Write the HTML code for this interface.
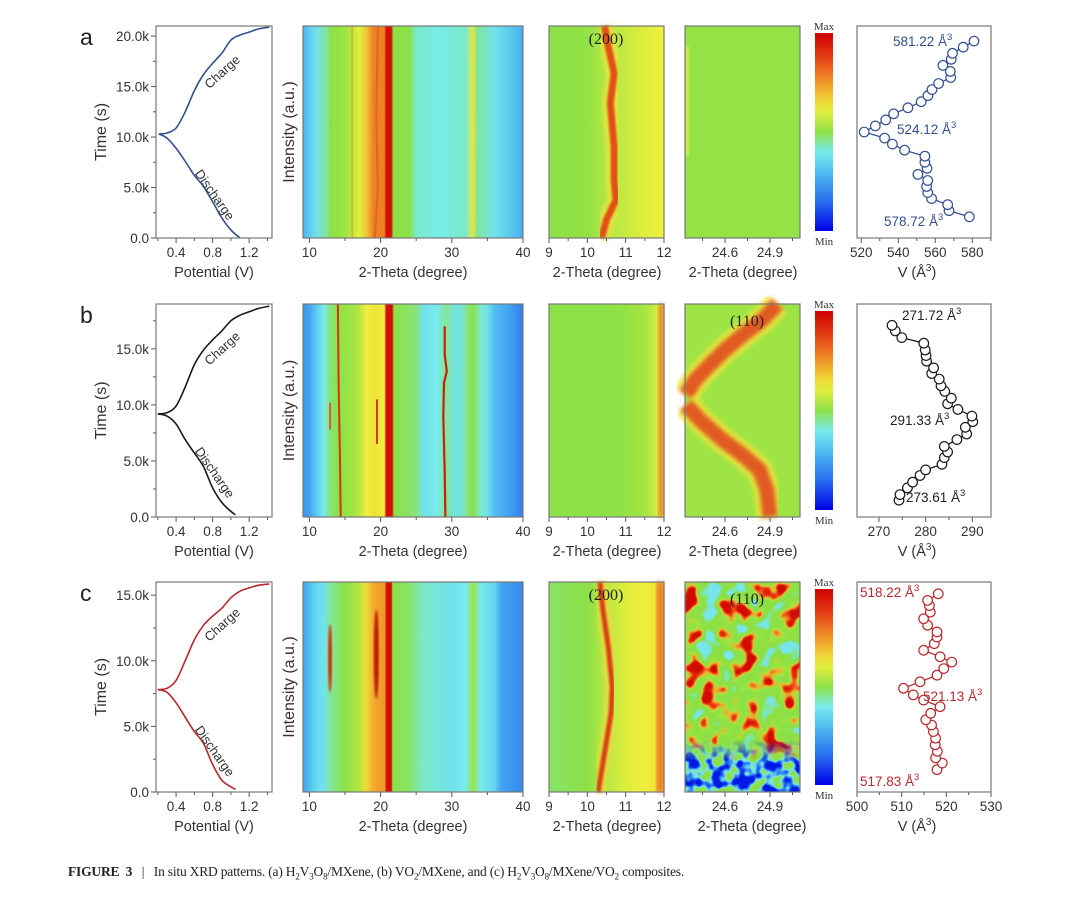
<!DOCTYPE html>
<html><head><meta charset="utf-8"><style>
html,body{margin:0;padding:0;background:#fff;}
svg{display:block;font-family:"Liberation Sans",Arial,sans-serif;}
.cap{position:absolute;left:68px;top:864px;font-family:"Liberation Serif",serif;font-size:13.5px;color:#222;letter-spacing:-0.2px;}
</style></head><body>
<svg id="fig" width="1080" height="898" viewBox="0 0 1080 898" xmlns="http://www.w3.org/2000/svg">
<defs>
<filter id="noiseMain" x="0" y="0" width="1" height="1" color-interpolation-filters="sRGB">
<feTurbulence type="fractalNoise" baseFrequency="0.05" numOctaves="2" seed="4"/>
<feColorMatrix type="matrix" values="2.6 0 0 0 -0.78  2.6 0 0 0 -0.78  2.6 0 0 0 -0.78  0 0 0 0 1"/>
<feComponentTransfer>
<feFuncR type="table" tableValues="0.47 0.5 0.55 0.55 0.56 0.62 0.94 0.92 0.82"/>
<feFuncG type="table" tableValues="0.9 0.9 0.88 0.88 0.88 0.9 0.7 0.25 0.05"/>
<feFuncB type="table" tableValues="0.92 0.6 0.27 0.27 0.27 0.25 0.18 0.08 0"/>
</feComponentTransfer>
</filter>
<filter id="noiseBlue" x="0" y="0" width="1" height="1" color-interpolation-filters="sRGB">
<feTurbulence type="fractalNoise" baseFrequency="0.08" numOctaves="2" seed="9"/>
<feColorMatrix type="matrix" values="3 0 0 0 -1.1  3 0 0 0 -1.1  3 0 0 0 -1.1  0 0 0 0 1"/>
<feComponentTransfer>
<feFuncR type="table" tableValues="0 0.15 0.47 0.55 0.55"/>
<feFuncG type="table" tableValues="0.1 0.45 0.9 0.88 0.88"/>
<feFuncB type="table" tableValues="0.9 0.95 0.9 0.3 0.27"/>
</feComponentTransfer>
</filter>
<filter id="blur2"><feGaussianBlur stdDeviation="2"/></filter>
<filter id="blur1"><feGaussianBlur stdDeviation="1"/></filter>
<linearGradient id="blueFade" x1="0" y1="0" x2="0" y2="1">
<stop offset="0" stop-color="#fff" stop-opacity="0"/><stop offset="0.4" stop-color="#fff" stop-opacity="1"/><stop offset="1" stop-color="#fff" stop-opacity="1"/>
</linearGradient>
<mask id="blueMask"><rect x="685" y="740" width="115" height="52" fill="url(#blueFade)"/></mask>
</defs>
</svg>
<div class="cap"><b>FIGURE&nbsp; 3</b> &nbsp;&nbsp;|&nbsp;&nbsp; In situ XRD patterns. (a) H<sub style="font-size:9px">2</sub>V<sub style="font-size:9px">3</sub>O<sub style="font-size:9px">8</sub>/MXene, (b) VO<sub style="font-size:9px">2</sub>/MXene, and (c) H<sub style="font-size:9px">2</sub>V<sub style="font-size:9px">3</sub>O<sub style="font-size:9px">8</sub>/MXene/VO<sub style="font-size:9px">2</sub> composites.</div>
<script>
// ---------- DATA ----------
const rowLetters = ['a','b','c'];
const rowColors = ['#34508f','#1a1a1a','#b8282e'];
const timeMax = [21.0, 19.0, 16.0];
const timeTicks = [[0,5,10,15,20],[0,5,10,15],[0,5,10,15]];
const timeTickLabels = [['0.0','5.0k','10.0k','15.0k','20.0k'],['0.0','5.0k','10.0k','15.0k'],['0.0','5.0k','10.0k','15.0k']];
const potTicks = [0.4,0.8,1.2];
const xrdTicks = [10,20,30,40];
const p200Ticks = [9,10,11,12];
const p110Ticks = [24.6,24.9];
// charge/discharge curves (potential V, time k s)
const disV_a = [0.21,0.3,0.4,0.5,0.6,0.7,0.8,0.9,1.0,1.1];
const disT_a = [10.3,9.9,8.9,7.6,6.2,5.1,3.6,2.0,0.8,0.0];
const chgV_a = [0.21,0.3,0.4,0.5,0.6,0.7,0.8,0.9,1.0,1.1,1.2,1.3,1.42];
const chgT_a = [10.3,10.4,10.9,12.5,14.6,16.2,17.3,18.3,19.6,20.1,20.4,20.7,20.9];
const disV_b = [0.2,0.3,0.4,0.5,0.6,0.7,0.8,0.9,1.0,1.05];
const disT_b = [9.2,9.0,8.3,6.9,5.7,4.5,2.6,1.3,0.5,0.2];
const chgV_b = [0.2,0.3,0.4,0.5,0.6,0.7,0.8,0.9,1.0,1.1,1.2,1.3,1.42];
const chgT_b = [9.2,9.3,9.9,11.6,13.6,14.9,15.8,16.6,17.5,18.0,18.3,18.6,18.8];
const disV_c = [0.2,0.3,0.4,0.5,0.6,0.7,0.8,0.9,1.0,1.05];
const disT_c = [7.8,7.6,6.8,5.7,4.6,3.7,2.1,0.9,0.4,0.2];
const chgV_c = [0.2,0.3,0.4,0.5,0.6,0.7,0.8,0.9,1.0,1.1,1.2,1.3,1.42];
const chgT_c = [7.8,7.9,8.5,10.0,11.6,12.7,13.4,14.0,14.8,15.3,15.55,15.75,15.85];
// XRD intensity profiles (2-theta, normalized intensity)
const xrdTheta_a = [9,10,11,12.5,13,15,16,17,18,19,20.5,20.8,21.5,21.8,24,25,28,32,33,33.5,36,38,40];
const xrdInt_a  = [0.28,0.33,0.38,0.45,0.5,0.52,0.55,0.6,0.68,0.78,0.78,0.97,0.97,0.5,0.5,0.42,0.4,0.42,0.6,0.45,0.38,0.33,0.27];
const xrdTheta_b = [9,10,11,12,13,14,16,17,18,19,20.5,20.8,21.6,21.9,25,26,28,29,31,32,33,34,35,36,38,40];
const xrdInt_b  = [0.22,0.25,0.33,0.4,0.47,0.5,0.52,0.55,0.62,0.64,0.62,0.97,0.97,0.5,0.47,0.38,0.4,0.45,0.38,0.45,0.5,0.42,0.38,0.3,0.25,0.18];
const xrdTheta_c = [9,10,11,12,13,15,17,18,19,20.6,20.8,21.5,21.7,24,26,30,32,33,34,36,37,40];
const xrdInt_c  = [0.25,0.3,0.36,0.38,0.45,0.5,0.55,0.65,0.72,0.75,0.97,0.97,0.5,0.48,0.42,0.38,0.4,0.52,0.4,0.35,0.25,0.2];
// (200) background profiles
const p200Theta = [9,10,10.6,11,11.5,12];
const p200Int_a = [0.5,0.51,0.55,0.57,0.6,0.62];
const p200Int_b = [0.5,0.5,0.5,0.51,0.53,0.62];
const p200Int_c = [0.48,0.5,0.56,0.6,0.62,0.66];
// (200) peak traces (time k, 2-theta)
const trace200T_a = [0,1.8,3.8,5.7,9.0,13.4,16.3,18.9,21.0];
const trace200X_a = [10.37,10.5,10.75,10.7,10.7,10.6,10.7,10.55,10.45];
const trace200T_c = [0,3,6,8,11,14,16];
const trace200X_c = [10.28,10.45,10.62,10.65,10.55,10.4,10.33];
// (110) peak traces, row b
const trace110T_up = [10.9,12.2,13.6,14.9,16.25,17.6,19.0];
const trace110X_up = [24.34,24.4,24.5,24.6,24.72,24.85,24.95];
const trace110T_lo = [0,2.4,4.2,5.5,6.9,8.7,10.0];
const trace110X_lo = [24.9,24.88,24.83,24.72,24.58,24.43,24.34];
// lattice volume vs time
const volT_a = [2.1,2.7,3.3,3.9,4.5,5.1,5.7,6.3,6.9,7.5,8.1,8.7,9.3,9.9,10.5,11.1,11.7,12.3,12.9,13.5,14.1,14.7,15.3,15.9,16.5,17.1,17.7,18.3,18.9,19.5];
const volV_a = [578.4,567.4,566.7,558.0,555.9,555.3,555.9,550.6,555.5,554.4,554.4,543.4,536.8,532.6,521.6,527.6,533.2,537.5,545.2,552.4,556.0,558.2,561.8,568.3,568.1,564.1,568.6,569.3,575.1,580.9];
const volT_b = [1.5,2.0,2.6,3.1,3.7,4.2,4.7,5.3,5.8,6.3,6.9,7.4,8.0,8.5,9.0,9.6,10.1,10.6,11.2,11.7,12.3,12.8,13.3,13.9,14.4,14.9,15.5,16.0,16.6,17.1];
const volV_b = [274.3,274.5,276.1,277.2,278.8,280.0,283.5,284.0,284.7,284.0,286.7,288.8,288.5,290.1,289.9,286.9,284.7,285.5,284.1,283.3,282.9,281.3,281.7,280.2,280.1,279.9,279.6,274.9,273.5,272.8];
const volT_c = [1.7,2.2,2.6,3.1,3.6,4.1,4.6,5.1,5.5,6.0,6.5,7.0,7.4,7.9,8.4,8.9,9.4,9.9,10.3,10.8,11.3,11.8,12.2,12.7,13.2,13.7,14.2,14.6,15.1];
const volV_c = [517.9,519.1,517.6,518.0,517.5,517.6,517.1,516.7,515.4,516.5,518.6,514.9,512.6,510.4,514.1,517.9,519.4,521.2,518.6,514.9,517.3,517.9,517.9,515.8,514.9,516.4,516.2,515.8,518.2];
const volDomain = [[517.7,590.1],[265.3,294.0],[500,530]];
const volTicks = [[520,540,560,580],[270,280,290],[500,510,520,530]];
const volLabels = [
  [['581.22',893,46],['524.12',897,134],['578.72',884,226]],
  [['271.72',902,320],['291.33',890,425],['273.61',906,502]],
  [['518.22',860,597],['521.13',923,701],['517.83',860,786]]
];

// ---------- HELPERS ----------
const NS='http://www.w3.org/2000/svg';
const svg=document.getElementById('fig');
const defs=svg.querySelector('defs');
function mk(tag,attrs,parent){const e=document.createElementNS(NS,tag);for(const k in attrs)e.setAttribute(k,attrs[k]);(parent||svg).appendChild(e);return e;}
function txt(str,attrs,parent){const e=mk('text',attrs,parent);e.textContent=str;return e;}
function lin(d0,d1,r0,r1){return v=>r0+(v-d0)*(r1-r0)/(d1-d0);}
const CM=[[0,[0,0,230]],[0.15,[40,110,240]],[0.3,[80,190,240]],[0.4,[120,235,235]],[0.5,[140,225,70]],[0.62,[240,240,60]],[0.75,[240,150,40]],[0.88,[230,60,20]],[1,[205,0,0]]];
function cmap(v){v=Math.max(0,Math.min(1,v));for(let i=1;i<CM.length;i++){if(v<=CM[i][0]){const a=CM[i-1],b=CM[i];const t=(v-a[0])/(b[0]-a[0]);const c=a[1].map((x,j)=>Math.round(x+(b[1][j]-x)*t));return 'rgb('+c.join(',')+')';}}return 'rgb(205,0,0)';}
function hGrad(id,thetas,ints,d0,d1){const g=mk('linearGradient',{id:id,x1:'0',y1:'0',x2:'1',y2:'0'},defs);thetas.forEach((t,i)=>{mk('stop',{offset:((t-d0)/(d1-d0)).toFixed(4),'stop-color':cmap(ints[i])},g);});}

const PX={cd:[156,272],xrd:[303,523],p200:[549,664],p110:[685,800],cb:[815,833],vol:[857,991]};
const ROWS=[{top:26,bot:238},{top:304,bot:517},{top:582,bot:792}];
const TC='#333';

function frame(x0,x1,top,bot,name){const r=mk('rect',{x:x0,y:top,width:x1-x0,height:bot-top,fill:'none',stroke:'#777','stroke-width':1.2});

}
function xTicks(xs,ticks,labels,bot,minor,grp){ticks.forEach((t,i)=>{const x=xs(t);mk('line',{x1:x,y1:bot,x2:x,y2:bot+5,stroke:'#555'},grp);const l=txt(labels[i],{x:x,y:bot+19,'text-anchor':'middle','font-size':13.5,fill:TC},grp);

});
(minor||[]).forEach(t=>{const x=xs(t);mk('line',{x1:x,y1:bot,x2:x,y2:bot+3,stroke:'#555'},grp);});}
function xTitle(s,cx,y,grp){const t=txt(s,{x:cx,y:y,'text-anchor':'middle','font-size':14.5,fill:TC},grp);

}
function poly(xsArr,ysArr,sx,sy,attrs,grp){return mk('polyline',Object.assign({points:xsArr.map((v,i)=>sx(v).toFixed(1)+','+sy(ysArr[i]).toFixed(1)).join(' '),fill:'none'},attrs),grp);}
function smooth(xsArr,ysArr,sx,sy,attrs,grp){
  const P=xsArr.map((v,i)=>[sx(v),sy(ysArr[i])]);
  let d='M'+P[0][0].toFixed(1)+','+P[0][1].toFixed(1);
  for(let i=0;i<P.length-1;i++){const p0=P[Math.max(0,i-1)],p1=P[i],p2=P[i+1],p3=P[Math.min(P.length-1,i+2)];
    const c1=[p1[0]+(p2[0]-p0[0])/6,p1[1]+(p2[1]-p0[1])/6],c2=[p2[0]-(p3[0]-p1[0])/6,p2[1]-(p3[1]-p1[1])/6];
    d+=' C'+c1.map(v=>v.toFixed(1)).join(',')+' '+c2.map(v=>v.toFixed(1)).join(',')+' '+p2[0].toFixed(1)+','+p2[1].toFixed(1);}
  return mk('path',Object.assign({d:d,fill:'none'},attrs),grp);}

// ---------- BUILD ROWS ----------
const CD=[[disV_a,disT_a,chgV_a,chgT_a],[disV_b,disT_b,chgV_b,chgT_b],[disV_c,disT_c,chgV_c,chgT_c]];
const XRD=[[xrdTheta_a,xrdInt_a],[xrdTheta_b,xrdInt_b],[xrdTheta_c,xrdInt_c]];
const P200=[p200Int_a,p200Int_b,p200Int_c];
const VOL=[[volT_a,volV_a],[volT_b,volV_b],[volT_c,volV_c]];

ROWS.forEach((R,ri)=>{
  const col=rowColors[ri];
  const g=mk('g',{});
  
  
  const sy=lin(0,timeMax[ri],R.bot,R.top);
  const lt=txt(rowLetters[ri],{x:80,y:R.top+19,'font-size':23,fill:'#222'},g);
  
  

  // --- charge/discharge panel ---
  const gc=mk('g',{},g);
  
  
  const sxV=lin(0.18,1.45,PX.cd[0],PX.cd[1]);
  const cd=CD[ri];
  const d=smooth(cd[0],cd[1],sxV,sy,{stroke:col,'stroke-width':1.6},gc);
  
  
  const c=smooth(cd[2],cd[3],sxV,sy,{stroke:col,'stroke-width':1.6},gc);
  
  
  frame(PX.cd[0],PX.cd[1],R.top,R.bot,'charge-discharge-frame');
  timeTicks[ri].forEach((t,i)=>{const y=sy(t);mk('line',{x1:PX.cd[0]-5,y1:y,x2:PX.cd[0],y2:y,stroke:'#555'},gc);
    const l=txt(timeTickLabels[ri][i],{x:PX.cd[0]-7,y:y+5,'text-anchor':'end','font-size':13.5,fill:TC},gc);
    
    
    if(t+2.5<timeMax[ri]) mk('line',{x1:PX.cd[0]-3,y1:sy(t+2.5),x2:PX.cd[0],y2:sy(t+2.5),stroke:'#555'},gc);});
  xTicks(sxV,potTicks,['0.4','0.8','1.2'],R.bot,[0.2,0.6,1.0,1.4],gc);
  xTitle('Potential (V)',214,R.bot+39,gc);
  const yt=txt('Time (s)',{x:0,y:0,'text-anchor':'middle','font-size':16,fill:TC,transform:'translate(106,'+((R.top+R.bot)/2)+') rotate(-90)'},gc);
  
  
  // curve labels
  const chX=sxV(0.72)+4, chY=sy(cd[3][6])+26;
  const cl=txt('Charge',{x:0,y:0,'font-size':13,fill:'#333',transform:'translate('+chX+','+chY+') rotate(-42)'},gc);
  
  
  const dX=sxV(0.6), dY=sy(cd[1][4])-2;
  const dl=txt('Discharge',{x:0,y:0,'font-size':13,fill:'#333',transform:'translate('+dX+','+dY+') rotate(55)'},gc);
  
  

  // --- XRD full map ---
  const gx=mk('g',{},g);
  
  
  const sxT=lin(9.1,40,PX.xrd[0],PX.xrd[1]);
  hGrad('xg'+ri,XRD[ri][0],XRD[ri][1],9.1,40);
  const xr=mk('rect',{x:PX.xrd[0],y:R.top,width:PX.xrd[1]-PX.xrd[0],height:R.bot-R.top,fill:'url(#xg'+ri+')'},gx);
  
  
  if(ri===0){
    poly([16,16],[0,21],sxT,sy,{stroke:'rgb(240,150,40)','stroke-width':1.5,opacity:0.7},gx);
    poly([19.2,19.6,19.4,19.6],[0,5,12,21],sxT,sy,{stroke:'rgb(225,90,25)','stroke-width':2,opacity:0.7},gx);
    poly([32.9,33.1,32.9],[0,10,21],sxT,sy,{stroke:'rgb(240,220,60)','stroke-width':2},gx);
  }
  if(ri===1){
    poly([14.4,14.3,14.1,14.0],[0,5,12,19],sxT,sy,{stroke:'rgb(215,50,20)','stroke-width':2},gx);
    poly([29.1,29.0,28.8,28.9,29.3,29.0,29.0],[0,4,9,12,13,14.5,17],sxT,sy,{stroke:'rgb(200,30,10)','stroke-width':2.2},gx);
    poly([12.9,12.9],[7.8,10.2],sxT,sy,{stroke:'rgb(225,90,25)','stroke-width':2},gx);
    poly([19.5,19.5],[6.5,10.5],sxT,sy,{stroke:'rgb(215,60,20)','stroke-width':2},gx);
  }
  if(ri===2){
    mk('ellipse',{cx:sxT(12.9),cy:sy(10.2),rx:2,ry:(sy(7.6)-sy(12.8))/2,fill:'rgb(210,40,10)',filter:'url(#blur1)'},gx);
    mk('ellipse',{cx:sxT(19.4),cy:sy(10.5),rx:2.5,ry:(sy(7.2)-sy(14))/2,fill:'rgb(190,20,0)',filter:'url(#blur1)'},gx);
  }
  frame(PX.xrd[0],PX.xrd[1],R.top,R.bot,'xrd-frame');
  xTicks(sxT,xrdTicks,['10','20','30','40'],R.bot,[15,25,35],gx);
  xTitle('2-Theta (degree)',413,R.bot+39,gx);
  const it=txt('Intensity (a.u.)',{x:0,y:0,'text-anchor':'middle','font-size':16,fill:TC,transform:'translate(294,'+((R.top+R.bot)/2)+') rotate(-90)'},gx);
  
  

  // --- (200) zoom panel ---
  const g2=mk('g',{},g);
  
  
  const s2=lin(9,12,PX.p200[0],PX.p200[1]);
  hGrad('pg'+ri,p200Theta,P200[ri],9,12);
  mk('rect',{x:PX.p200[0],y:R.top,width:115,height:R.bot-R.top,fill:'url(#pg'+ri+')'},g2);
  if(ri===0){
    poly(trace200X_a,trace200T_a,s2,sy,{stroke:'rgb(240,230,60)','stroke-width':16,opacity:0.8,filter:'url(#blur2)'},g2);
    const tr=poly(trace200X_a,trace200T_a,s2,sy,{stroke:'rgb(225,80,25)','stroke-width':7,filter:'url(#blur1)'},g2);
    
    
  }
  if(ri===1){
    mk('rect',{x:s2(11.85),y:R.top,width:s2(12)-s2(11.85),height:R.bot-R.top,fill:'rgb(235,110,35)',opacity:0.8,filter:'url(#blur2)'},g2);
  }
  if(ri===2){
    poly(trace200X_c,trace200T_c,s2,sy,{stroke:'rgb(240,220,60)','stroke-width':14,opacity:0.8,filter:'url(#blur2)'},g2);
    const tr=poly(trace200X_c,trace200T_c,s2,sy,{stroke:'rgb(215,60,20)','stroke-width':5,filter:'url(#blur1)'},g2);
    
    
    mk('rect',{x:s2(11.8),y:R.top,width:s2(12)-s2(11.8),height:R.bot-R.top,fill:'rgb(230,90,30)',opacity:0.7,filter:'url(#blur2)'},g2);
  }
  frame(PX.p200[0],PX.p200[1],R.top,R.bot,'peak-200-frame');
  xTicks(s2,p200Ticks,['9','10','11','12'],R.bot,[9.5,10.5,11.5],g2);
  xTitle('2-Theta (degree)',607,R.bot+39,g2);
  if(ri!==1){const l=txt('(200)',{x:606,y:R.top+18,'text-anchor':'middle','font-size':16,'font-family':'Liberation Serif, serif',fill:'#222'},g2);
    
    }

  // --- (110) zoom panel ---
  const g3=mk('g',{},g);
  
  
  const s3=lin(24.333,25.1,PX.p110[0],PX.p110[1]);
  if(ri===0){
    mk('rect',{x:PX.p110[0],y:R.top,width:115,height:R.bot-R.top,fill:cmap(0.51)},g3);
    mk('rect',{x:PX.p110[0],y:R.top+20,width:4,height:110,fill:cmap(0.58),filter:'url(#blur1)'},g3);
  }
  if(ri===1){
    mk('rect',{x:PX.p110[0],y:R.top,width:115,height:R.bot-R.top,fill:cmap(0.52)},g3);
    [[trace110X_up,trace110T_up],[trace110X_lo,trace110T_lo]].forEach((tr,k)=>{
      poly(tr[0],tr[1],s3,sy,{stroke:'rgb(240,230,60)','stroke-width':26,opacity:0.85,filter:'url(#blur2)'},g3);
      const p=poly(tr[0],tr[1],s3,sy,{stroke:'rgb(225,90,35)','stroke-width':15,filter:'url(#blur2)'},g3);
      
      
    });
  }
  if(ri===2){
    const nr=mk('rect',{x:PX.p110[0],y:R.top,width:115,height:R.bot-R.top,fill:'#000',filter:'url(#noiseMain)'},g3);
    
    
    const g4=mk('g',{mask:'url(#blueMask)'},g3);
    mk('rect',{x:PX.p110[0],y:740,width:115,height:52,fill:'#000',filter:'url(#noiseBlue)'},g4);
  }
  frame(PX.p110[0],PX.p110[1],R.top,R.bot,'peak-110-frame');
  xTicks(s3,p110Ticks,['24.6','24.9'],R.bot,[24.45,24.75,25.05],g3);
  xTitle('2-Theta (degree)',ri===2?752:743,R.bot+39,g3);
  if(ri!==0){const l=txt('(110)',{x:747,y:R.top+22,'text-anchor':'middle','font-size':16,'font-family':'Liberation Serif, serif',fill:'#222'},g3);
    
    }

  // --- colorbar ---
  const gb=mk('g',{},g);
  
  
  const cg=mk('linearGradient',{id:'cb'+ri,x1:'0',y1:'1',x2:'0',y2:'0'},defs);
  for(let i=0;i<=20;i++){mk('stop',{offset:(i/20).toFixed(2),'stop-color':cmap(i/20)},cg);}
  mk('rect',{x:PX.cb[0],y:R.top+7,width:18,height:R.bot-R.top-14,fill:'url(#cb'+ri+')'},gb);
  const mx=txt('Max',{x:824,y:R.top+4,'text-anchor':'middle','font-size':11,'font-family':'Liberation Serif, serif',fill:'#333'},gb);
  
  
  const mn=txt('Min',{x:824,y:R.bot+7,'text-anchor':'middle','font-size':11,'font-family':'Liberation Serif, serif',fill:'#333'},gb);
  
  

  // --- volume panel ---
  const gv=mk('g',{},g);
  
  
  const sv=lin(volDomain[ri][0],volDomain[ri][1],PX.vol[0],PX.vol[1]);
  const V=VOL[ri];
  const vl=poly(V[1],V[0],sv,sy,{stroke:col,'stroke-width':1.3},gv);
  
  
  V[0].forEach((t,i)=>{const p=mk('circle',{cx:sv(V[1][i]).toFixed(1),cy:sy(t).toFixed(1),r:4.8,fill:'#fff',stroke:col,'stroke-width':1.2},gv);
    
    });
  frame(PX.vol[0],PX.vol[1],R.top,R.bot,'volume-frame');
  const vt=volTicks[ri];
  const step=vt[1]-vt[0];
  xTicks(sv,vt,vt.map(String),R.bot,vt.map(v=>v+step/2).filter(v=>v<volDomain[ri][1]),gv);
  const vtt=txt('V (Å',{x:917,y:R.bot+39,'text-anchor':'middle','font-size':14.5,fill:TC},gv);
  
  
  const sup=mk('tspan',{dy:-6,'font-size':10},vtt);sup.textContent='3';
  const cl2=mk('tspan',{dy:6},vtt);cl2.textContent=')';
  volLabels[ri].forEach(L=>{const t=txt(L[0]+' Å',{x:L[1],y:L[2],'font-size':13.5,fill:ri===1?'#222':col},gv);
    
    
    const s=mk('tspan',{dy:-6,'font-size':9.5},t);s.textContent='3';});
});
</script>
</body></html>
